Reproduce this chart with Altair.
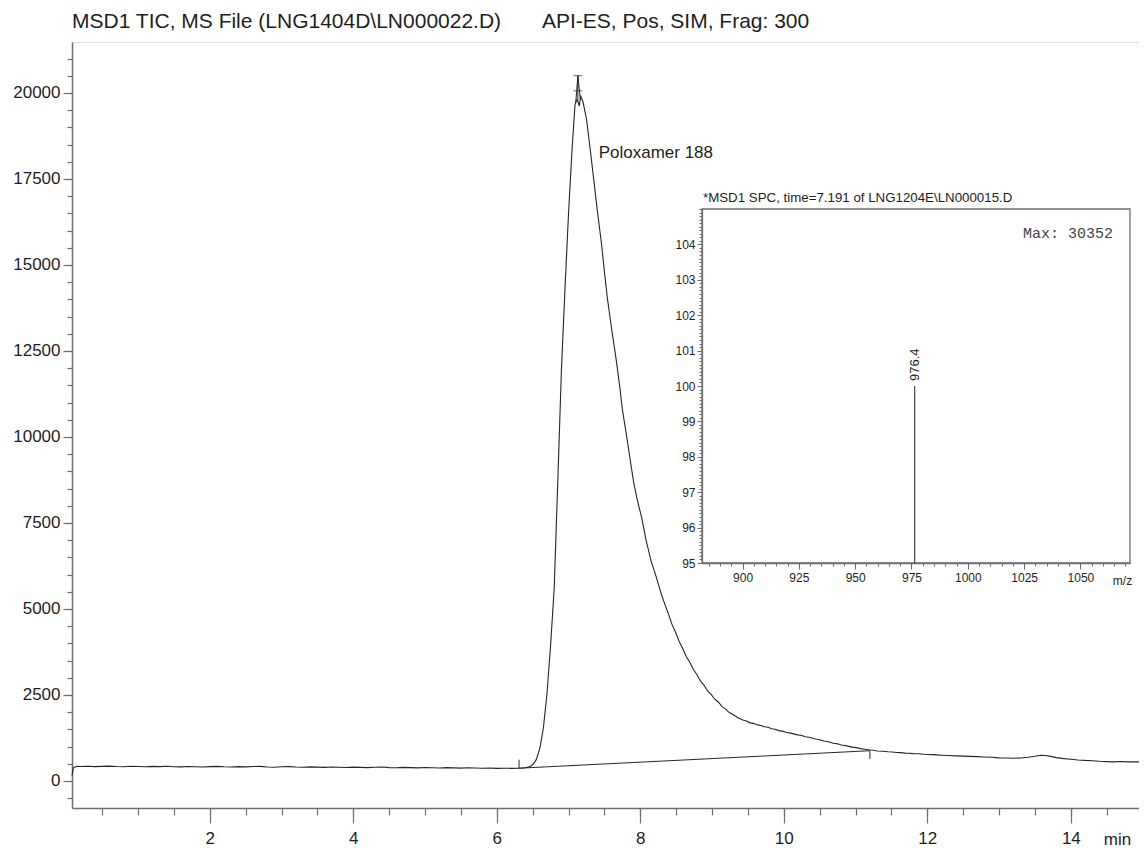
import altair as alt
import pandas as pd

# ---------------- data ----------------
title_left = "MSD1 TIC, MS File (LNG1404D\\LN000022.D)"
title_right = "API-ES, Pos, SIM, Frag: 300"

time_min = [
    0.08, 0.10, 0.15, 0.2, 0.3, 0.4, 0.5, 0.6, 0.7, 0.8, 0.9, 1.0,
    1.1, 1.2, 1.3, 1.4, 1.5, 1.6, 1.7, 1.8, 1.9, 2.0,
    2.1, 2.2, 2.3, 2.4, 2.5, 2.6, 2.7, 2.8, 2.9, 3.0,
    3.1, 3.2, 3.3, 3.4, 3.5, 3.6, 3.7, 3.8, 3.9, 4.0,
    4.1, 4.2, 4.3, 4.4, 4.5, 4.6, 4.7, 4.8, 4.9, 5.0,
    5.1, 5.2, 5.3, 5.4, 5.5, 5.6, 5.7, 5.8, 5.9, 6.0,
    6.1, 6.2, 6.3, 6.35, 6.4, 6.45, 6.5, 6.55, 6.6, 6.65, 6.7, 6.75,
    6.8, 6.85, 6.9, 6.95, 7.0, 7.05, 7.09, 7.11, 7.13, 7.15, 7.17, 7.2,
    7.25, 7.3, 7.35, 7.4, 7.46, 7.5, 7.54, 7.58, 7.61, 7.65, 7.68, 7.72,
    7.75, 7.8, 7.84, 7.88, 7.91, 7.96, 8.02, 8.08, 8.15, 8.22, 8.29,
    8.34, 8.39, 8.44, 8.49, 8.54, 8.59, 8.64, 8.69, 8.74, 8.79, 8.84,
    8.89, 8.94, 8.99, 9.04, 9.09, 9.14, 9.19, 9.24, 9.29, 9.36, 9.43,
    9.48, 9.53, 9.58, 9.63, 9.68, 9.73, 9.78, 9.83, 9.88, 9.93, 9.98,
    10.03, 10.11, 10.19, 10.25, 10.3, 10.37, 10.44, 10.5, 10.56, 10.62,
    10.69, 10.75, 10.8, 10.88, 10.95, 11.01, 11.07, 11.13, 11.2, 11.25,
    11.3, 11.38, 11.45, 11.51, 11.57, 11.63, 11.69, 11.75, 11.8, 11.88,
    11.95, 12.01, 12.07, 12.13, 12.2, 12.3, 12.4, 12.5, 12.6, 12.7,
    12.8, 12.9, 13.0, 13.1, 13.2, 13.3, 13.4, 13.5, 13.58, 13.65, 13.7,
    13.8, 13.9, 14.0, 14.1, 14.2, 14.3, 14.4, 14.5, 14.6, 14.7, 14.8,
    14.9, 14.95,
]
tic_counts = [
    160, 390, 425, 420, 430, 418, 425, 432, 421, 415, 428, 420,
    412, 425, 418, 430, 416, 410, 422, 415, 408, 418,
    425, 412, 405, 418, 410, 420, 425, 405, 400, 412,
    418, 405, 398, 410, 403, 396, 408, 400, 392, 402,
    396, 388, 398, 405, 390, 384, 395, 388, 380, 392,
    385, 378, 388, 380, 374, 384, 376, 370, 378, 366,
    372, 368, 372, 376, 385, 410, 470, 620, 950, 1550, 2550, 3950,
    5600, 8700, 11900, 14300, 16500, 18400, 19650, 19800, 19750, 19620, 19900, 19750,
    19250, 18400, 17500, 16600, 15600, 14800, 14050, 13450, 13000, 12450, 12000, 11350,
    10800, 10150, 9600, 9050, 8650, 8150, 7650, 7000, 6400, 5950, 5450,
    5150, 4870, 4560, 4330, 4060, 3860, 3620, 3450, 3240, 3090, 2900,
    2780, 2610, 2510, 2370, 2290, 2160, 2090, 1990, 1930, 1840, 1770,
    1745, 1690, 1675, 1630, 1615, 1575, 1560, 1520, 1505, 1465, 1450,
    1415, 1385, 1340, 1320, 1285, 1265, 1220, 1200, 1160, 1140,
    1095, 1080, 1045, 1020, 985, 970, 940, 925, 900, 895,
    870, 865, 850, 842, 830, 825, 810, 808, 795, 790,
    778, 772, 765, 758, 750, 742, 730, 722, 715, 708,
    698, 690, 672, 668, 660, 670, 688, 718, 750, 740, 722,
    680, 650, 632, 612, 598, 590, 572, 562, 556, 566, 556,
    560, 555,
]

baseline_time = [6.31, 11.20]
baseline_counts = [372, 880]

marker_group = ["start", "start", "end", "end", "apex", "apex"]
marker_time = [6.31, 6.31, 11.20, 11.20, 7.13, 7.13]
marker_counts = [372, 620, 880, 640, 19750, 20500]

apex_bar_time = [7.13, 7.13]
apex_bar_counts = [20500, 20060]

apex_leg_time = [7.10, 7.13, 7.165]
apex_leg_counts = [19700, 20500, 19800]

peak_label = ["Poloxamer 188"]
peak_label_time = [7.42]
peak_label_counts = [18250]

main_x_ticks = [2, 4, 6, 8, 10, 12, 14]
main_x_minor = [0.5 * i for i in range(1, 30)]
main_y_ticks = [0, 2500, 5000, 7500, 10000, 12500, 15000, 17500, 20000]
main_y_minor = [-500 + 500 * i for i in range(44)]

inset_title = ["*MSD1 SPC, time=7.191 of LNG1204E\\LN000015.D"]
inset_max = ["Max: 30352"]
spec_mz = [976.4]
spec_abund = [100]
spec_label = ["976.4"]
inset_x_ticks = [900, 925, 950, 975, 1000, 1025, 1050]
inset_x_minor = [885 + 5 * i for i in range(38)]
inset_y_ticks = [95, 96, 97, 98, 99, 100, 101, 102, 103, 104]
inset_y_minor = [round(95 + 0.1 * i, 1) for i in range(101)]

# ---------------- scales ----------------
W, H = 1067, 766
MX = alt.Scale(domain=[0.08, 14.95], nice=False, zero=False)
MY = alt.Scale(domain=[-785, 21480], nice=False, zero=False)
IX = alt.Scale(domain=[882, 1072], range=[630, 1058], nice=False, zero=False)
IY = alt.Scale(domain=[95, 105], range=[521, 167], nice=False, zero=False)

FONT = "Liberation Sans"
LINE = "#262626"
AXC = "#6e6e6e"
TXT = "#1e1e1e"

tic = pd.DataFrame({"t": time_min, "v": tic_counts})
base = pd.DataFrame({"t": baseline_time, "v": baseline_counts})
marks = pd.DataFrame({"g": marker_group, "t": marker_time, "v": marker_counts})
bars = pd.DataFrame({"t": apex_bar_time, "v": apex_bar_counts})
legs = pd.DataFrame({"t": apex_leg_time, "v": apex_leg_counts})
plabel = pd.DataFrame({"t": peak_label_time, "v": peak_label_counts, "s": peak_label})

ax_main_x = alt.Axis(values=main_x_ticks, orient="bottom", tickSize=15, labelPadding=7,
                     labelFontSize=17, labelFont=FONT, labelColor=TXT, format="d",
                     domainColor=AXC, domainWidth=1.5, tickColor=AXC, tickWidth=1.2,
                     labelFlush=False, labelOverlap=False, grid=False,
                     title="min", titleX=1045, titleY=36, titleBaseline="alphabetic",
                     titleAlign="center", titleAngle=0, titleFontSize=17, titleFont=FONT,
                     titleFontWeight="normal", titleColor=TXT)
ax_main_x_minor = alt.Axis(values=main_x_minor, orient="bottom", tickSize=7, labels=False,
                           domain=False, tickColor=AXC, tickWidth=1.2, grid=False, title=None)
ax_main_y = alt.Axis(values=main_y_ticks, orient="left", tickSize=9, labelPadding=3,
                     labelFontSize=17, labelFont=FONT, labelColor=TXT, format="d",
                     domainColor=AXC, domainWidth=1.5, tickColor=AXC, tickWidth=1.2,
                     labelFlush=False, labelOverlap=False, grid=False, title=None)
ax_main_y_minor = alt.Axis(values=main_y_minor, orient="left", tickSize=5, labels=False,
                           domain=False, tickColor=AXC, tickWidth=1.2, grid=False, title=None)

line = alt.Chart(tic).mark_line(color=LINE, strokeWidth=1.1).encode(
    x=alt.X("t:Q", scale=MX, axis=ax_main_x),
    y=alt.Y("v:Q", scale=MY, axis=ax_main_y),
)
minor_main = alt.Chart(tic).mark_line(strokeOpacity=0).encode(
    x=alt.X("t:Q", scale=MX, axis=ax_main_x_minor),
    y=alt.Y("v:Q", scale=MY, axis=ax_main_y_minor),
)
base_line = alt.Chart(base).mark_line(color=LINE, strokeWidth=1.0).encode(
    x=alt.X("t:Q", scale=MX, axis=None), y=alt.Y("v:Q", scale=MY, axis=None))
marker_lines = alt.Chart(marks).mark_line(color=LINE, strokeWidth=1.0).encode(
    x=alt.X("t:Q", scale=MX, axis=None), y=alt.Y("v:Q", scale=MY, axis=None),
    detail="g:N")
apex_bars = alt.Chart(bars).mark_tick(color=LINE, orient="horizontal", size=9, thickness=1).encode(
    x=alt.X("t:Q", scale=MX, axis=None), y=alt.Y("v:Q", scale=MY, axis=None))
apex_legs = alt.Chart(legs).mark_line(color=LINE, strokeWidth=1.0).encode(
    x=alt.X("t:Q", scale=MX, axis=None), y=alt.Y("v:Q", scale=MY, axis=None))
peak_text = alt.Chart(plabel).mark_text(align="left", baseline="middle", font=FONT,
                                        fontSize=17, color=TXT).encode(
    x=alt.X("t:Q", scale=MX, axis=None), y=alt.Y("v:Q", scale=MY, axis=None), text="s:N")

# ---------------- inset ----------------
frame = pd.DataFrame({"x": [882], "x2": [1072], "y": [95], "y2": [105]})
spec = pd.DataFrame({"mz": spec_mz, "a": spec_abund, "s": spec_label})
itxt = pd.DataFrame({"x": [882], "y": [105], "s": inset_title})
imax = pd.DataFrame({"x": [1072], "y": [105], "s": inset_max})

ax_in_x = alt.Axis(values=inset_x_ticks, orient="bottom", offset=-245, tickSize=6, labelPadding=3,
                   labelFontSize=12, labelFont=FONT, labelColor=TXT, format="d",
                   domainColor=AXC, domainWidth=1.3, tickColor=AXC, tickWidth=1.1,
                   labelFlush=False, labelOverlap=False, grid=False, zindex=2,
                   title="m/z", titleX=1050, titleY=21, titleBaseline="alphabetic",
                   titleAlign="center", titleAngle=0, titleFontSize=12, titleFont=FONT,
                   titleFontWeight="normal", titleColor=TXT)
ax_in_x_minor = alt.Axis(values=inset_x_minor, orient="bottom", offset=-245, tickSize=3,
                         labels=False, domain=False, tickColor=AXC, tickWidth=1.0,
                         grid=False, title=None, zindex=2)
ax_in_y = alt.Axis(values=inset_y_ticks, orient="left", offset=-630, tickSize=5, labelPadding=2,
                   labelFontSize=12, labelFont=FONT, labelColor=TXT, format="d",
                   domainColor=AXC, domainWidth=1.3, tickColor=AXC, tickWidth=1.1,
                   labelFlush=False, labelOverlap=False, grid=False, title=None, zindex=2)
ax_in_y_minor = alt.Axis(values=inset_y_minor, orient="left", offset=-630, tickSize=3,
                         labels=False, domain=False, tickColor=AXC, tickWidth=1.0,
                         grid=False, title=None, zindex=2)

inset_frame = alt.Chart(frame).mark_rect(fill="white", stroke=AXC, strokeWidth=1.3).encode(
    x=alt.X("x:Q", scale=IX, axis=ax_in_x), x2="x2:Q",
    y=alt.Y("y:Q", scale=IY, axis=ax_in_y), y2="y2:Q")
inset_minor = alt.Chart(frame).mark_point(opacity=0).encode(
    x=alt.X("x:Q", scale=IX, axis=ax_in_x_minor),
    y=alt.Y("y:Q", scale=IY, axis=ax_in_y_minor))
spike = alt.Chart(spec).mark_rule(color="#444444", strokeWidth=1.2).encode(
    x=alt.X("mz:Q", scale=IX, axis=None),
    y=alt.Y("a:Q", scale=IY, axis=None), y2=alt.datum(95))
spike_label = alt.Chart(spec).mark_text(angle=270, align="left", baseline="middle", dx=5,
                                        font=FONT, fontSize=13, color=TXT).encode(
    x=alt.X("mz:Q", scale=IX, axis=None), y=alt.Y("a:Q", scale=IY, axis=None), text="s:N")
inset_title_text = alt.Chart(itxt).mark_text(align="left", baseline="alphabetic", dx=1, dy=-7,
                                             font=FONT, fontSize=13.3, color=TXT).encode(
    x=alt.X("x:Q", scale=IX, axis=None), y=alt.Y("y:Q", scale=IY, axis=None), text="s:N")
inset_max_text = alt.Chart(imax).mark_text(align="right", baseline="alphabetic", dx=-17, dy=29,
                                           font="Liberation Mono", fontSize=15,
                                           color="#444444").encode(
    x=alt.X("x:Q", scale=IX, axis=None), y=alt.Y("y:Q", scale=IY, axis=None), text="s:N")

chart = alt.layer(
    minor_main, line, base_line, marker_lines, apex_bars, apex_legs, peak_text,
    inset_frame, inset_minor, spike, spike_label, inset_title_text, inset_max_text,
).resolve_scale(x="independent", y="independent").properties(
    width=W, height=H,
    autosize=alt.AutoSizeParams(type="none"),
    padding={"left": 64, "top": 34, "right": 0, "bottom": 40},
    title=alt.TitleParams(
        text=title_left + "\u00a0" * 7 + title_right, anchor="start", frame="group",
        dx=0, offset=10, fontSize=21, font=FONT, fontWeight="normal", color=TXT),
).configure_view(stroke=AXC, strokeWidth=1.5).configure(background="white")

chart.save("out.html", embed_options={"renderer": "svg", "actions": False})
